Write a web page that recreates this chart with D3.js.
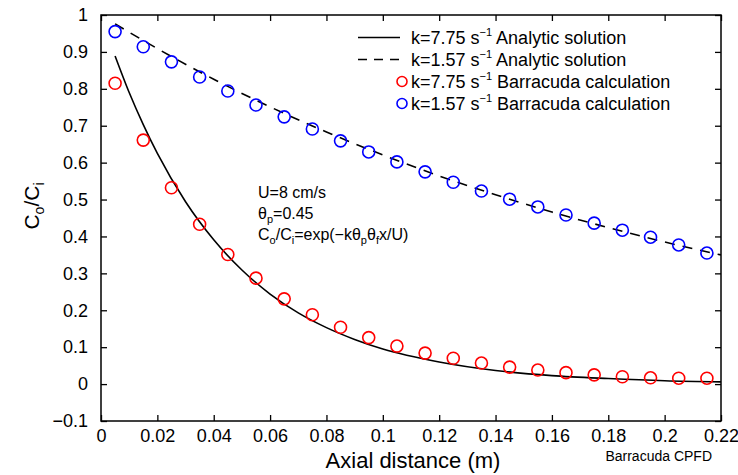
<!DOCTYPE html>
<html>
<head>
<meta charset="utf-8">
<script src="https://cdn.jsdelivr.net/npm/d3@7"></script>
<style>
  body { margin: 0; background: #fff; }
  text { font-family: "Liberation Sans", Arial, sans-serif; fill: #000; }
</style>
</head>
<body>
<svg id="chart"></svg>
<script>
// simulated points (Barracuda)
const xPts = [0.005, 0.015, 0.025, 0.035, 0.045, 0.055, 0.065, 0.075, 0.085, 0.095, 0.105,
  0.115, 0.125, 0.135, 0.145, 0.155, 0.165, 0.175, 0.185, 0.195, 0.205, 0.215];
const redPts = [0.815, 0.661, 0.532, 0.433, 0.351, 0.287, 0.231, 0.188, 0.154, 0.126, 0.103,
  0.084, 0.070, 0.057, 0.046, 0.038, 0.031, 0.025, 0.020, 0.017, 0.016, 0.016];
const bluePts = [0.955, 0.914, 0.873, 0.832, 0.794, 0.756, 0.724, 0.691, 0.659, 0.629, 0.602,
  0.575, 0.547, 0.523, 0.501, 0.480, 0.458, 0.436, 0.417, 0.398, 0.377, 0.355];

// analytic curves
const xRed = [0.005, 0.01, 0.015, 0.02, 0.03, 0.04, 0.05, 0.06, 0.07, 0.08, 0.09, 0.10,
  0.12, 0.14, 0.16, 0.18, 0.20, 0.22];
const redLine = [0.889, 0.790, 0.703, 0.625, 0.494, 0.391, 0.309, 0.244, 0.193, 0.153, 0.121, 0.095,
  0.060, 0.037, 0.023, 0.015, 0.009, 0.006];
const xBlue = [0.005, 0.02, 0.04, 0.06, 0.08, 0.10, 0.12, 0.14, 0.16, 0.18, 0.20, 0.22];
const blueLine = [0.976, 0.909, 0.826, 0.751, 0.683, 0.621, 0.564, 0.513, 0.466, 0.424, 0.385, 0.350];

const xTicks = [0, 0.02, 0.04, 0.06, 0.08, 0.1, 0.12, 0.14, 0.16, 0.18, 0.2, 0.22];
const yTicks = [-0.1, 0, 0.1, 0.2, 0.3, 0.4, 0.5, 0.6, 0.7, 0.8, 0.9, 1];

const legendItems = [
  { k: "7.75", rest: " Analytic solution", type: "solid" },
  { k: "1.57", rest: " Analytic solution", type: "dash" },
  { k: "7.75", rest: " Barracuda calculation", type: "red" },
  { k: "1.57", rest: " Barracuda calculation", type: "blue" }
];

const width = 738, height = 475;
const margin = { top: 15, right: 17, bottom: 54, left: 101 };
const iw = width - margin.left - margin.right;
const ih = height - margin.top - margin.bottom;

const svg = d3.select("#chart").attr("width", width).attr("height", height);
const g = svg.append("g").attr("transform", `translate(${margin.left},${margin.top})`);

const x = d3.scaleLinear().domain([0, 0.22]).range([0, iw]);
const y = d3.scaleLinear().domain([-0.1, 1]).range([ih, 0]);

svg.append("defs").append("clipPath").attr("id", "clip")
  .append("rect").attr("width", iw).attr("height", ih);

const fmt = d => (d < 0 ? "\u22120.1" : d3.format("")(+d.toFixed(2)));

// axes, ticks drawn inward
const tl = 6;
g.append("g").attr("transform", `translate(0,${ih})`)
  .call(d3.axisBottom(x).tickValues(xTicks).tickSize(-tl).tickPadding(8).tickFormat(fmt))
  .call(a => a.select(".domain").remove());
g.append("g")
  .call(d3.axisTop(x).tickValues(xTicks).tickSize(-tl).tickFormat(""))
  .call(a => a.select(".domain").remove());
g.append("g")
  .call(d3.axisLeft(y).tickValues(yTicks).tickSize(-tl).tickPadding(13).tickFormat(fmt))
  .call(a => a.select(".domain").remove());
g.append("g").attr("transform", `translate(${iw},0)`)
  .call(d3.axisRight(y).tickValues(yTicks).tickSize(-tl).tickFormat(""))
  .call(a => a.select(".domain").remove());
g.selectAll(".tick line").attr("stroke", "#000").attr("stroke-width", 1.3);
g.selectAll(".tick text").style("font-size", "18px");

g.append("rect").attr("width", iw).attr("height", ih)
  .attr("fill", "none").attr("stroke", "#000").attr("stroke-width", 1.5);

// analytic lines
const line = d3.line().x(d => x(d[0])).y(d => y(d[1])).curve(d3.curveMonotoneX);
const plot = g.append("g").attr("clip-path", "url(#clip)");
plot.append("path").datum(d3.zip(xRed, redLine)).attr("d", line)
  .attr("fill", "none").attr("stroke", "#000").attr("stroke-width", 1.6);
plot.append("path").datum(d3.zip(xBlue, blueLine)).attr("d", line)
  .attr("fill", "none").attr("stroke", "#000").attr("stroke-width", 1.6)
  .attr("stroke-dasharray", "10,8");

// simulated points
const drawPts = (vals, color) => {
  g.append("g").selectAll("circle").data(d3.zip(xPts, vals)).join("circle")
    .attr("cx", d => x(d[0])).attr("cy", d => y(d[1])).attr("r", 6)
    .attr("fill", "none").attr("stroke", color).attr("stroke-width", 1.6);
};
drawPts(redPts, "#ff0000");
drawPts(bluePts, "#0000ff");

// legend
const lg = g.append("g").attr("transform", "translate(257,22.5)");
legendItems.forEach((it, i) => {
  const row = lg.append("g").attr("transform", `translate(0,${i * 22})`);
  if (it.type === "solid" || it.type === "dash") {
    row.append("line").attr("x1", 0).attr("x2", 42).attr("y1", 0).attr("y2", 0)
      .attr("stroke", "#000").attr("stroke-width", 1.6)
      .attr("stroke-dasharray", it.type === "dash" ? "9,7" : null);
  } else {
    row.append("circle").attr("cx", 44).attr("cy", 0).attr("r", 5)
      .attr("fill", "none").attr("stroke-width", 1.6)
      .attr("stroke", it.type === "red" ? "#ff0000" : "#0000ff");
  }
  const t = row.append("text").attr("x", 53).attr("y", 6).style("font-size", "18px");
  t.append("tspan").text(`k=${it.k} s`);
  t.append("tspan").attr("dy", -8).style("font-size", "11px").text("\u22121");
  t.append("tspan").attr("dy", 8).text(it.rest);
});

// annotation
const ann = g.append("g").attr("transform", "translate(157,183)").style("font-size", "16px");
ann.append("text").attr("y", 0).text("U=8 cm/s");
const a2 = ann.append("text").attr("y", 21);
a2.append("tspan").text("\u03b8");
a2.append("tspan").attr("dy", 4).style("font-size", "11px").text("p");
a2.append("tspan").attr("dy", -4).text("=0.45");
const a3 = ann.append("text").attr("y", 42);
a3.append("tspan").text("C");
a3.append("tspan").attr("dy", 4).style("font-size", "11px").text("o");
a3.append("tspan").attr("dy", -4).text("/C");
a3.append("tspan").attr("dy", 4).style("font-size", "11px").text("i");
a3.append("tspan").attr("dy", -4).text("=exp(\u2212k\u03b8");
a3.append("tspan").attr("dy", 4).style("font-size", "11px").text("p");
a3.append("tspan").attr("dy", -4).text("\u03b8");
a3.append("tspan").attr("dy", 4).style("font-size", "11px").text("f");
a3.append("tspan").attr("dy", -4).text("x/U)");

// axis titles
svg.append("text").attr("x", 413).attr("y", 468)
  .attr("text-anchor", "middle").style("font-size", "22px").text("Axial distance (m)");
svg.append("text").attr("x", 712).attr("y", 461).attr("text-anchor", "end")
  .style("font-size", "14px").text("Barracuda CPFD");
const yl = svg.append("text").attr("transform", "translate(39,206) rotate(-90)")
  .attr("text-anchor", "middle").style("font-size", "21px");
yl.append("tspan").text("C");
yl.append("tspan").attr("dy", 5).style("font-size", "14px").text("o");
yl.append("tspan").attr("dy", -5).text("/C");
yl.append("tspan").attr("dy", 5).style("font-size", "14px").text("i");
</script>
</body>
</html>
